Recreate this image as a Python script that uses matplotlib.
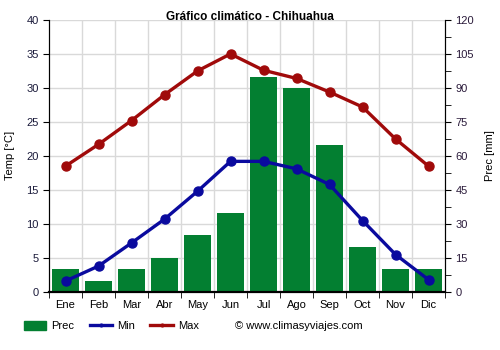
import matplotlib
matplotlib.use("Agg")
import matplotlib.pyplot as plt
from matplotlib.lines import Line2D
from matplotlib.patches import Patch
import numpy as np

plt.rcParams['font.family'] = ['Liberation Sans', 'DejaVu Sans']

months = ["Ene", "Feb", "Mar", "Abr", "May", "Jun", "Jul", "Ago", "Sep", "Oct", "Nov", "Dic"]
prec = [10, 5, 10, 15, 25, 35, 95, 90, 65, 20, 10, 10]
tmin = [1.6, 3.8, 7.2, 10.7, 14.8, 19.2, 19.2, 18.1, 15.8, 10.5, 5.5, 1.8]
tmax = [18.5, 21.7, 25.2, 29.0, 32.5, 35.0, 32.6, 31.4, 29.4, 27.2, 22.5, 18.5]

green = "#037f31"
blue = "#0a0a9e"
red = "#a00a0a"
grid = "#d9d9d9"

fig = plt.figure(figsize=(5, 3.5), dpi=100)
ax = fig.add_axes([0.098, 0.166, 0.792, 0.777])
ax2 = ax.twinx()

x = np.arange(len(months))

# precipitation bars on the right axis
ax2.bar(x, prec, width=0.8, color=green, zorder=2)
ax2.set_ylim(0, 120)
ax2.set_yticks(np.arange(0, 121, 15))
ax2.set_yticks(np.arange(0, 121, 7.5), minor=True)

# temperature lines on the left axis drawn above the bars
ax.set_zorder(ax2.get_zorder() + 1)
ax.patch.set_visible(False)
ax.plot(x, tmin, color=blue, lw=2.4, marker="o", ms=6.5, zorder=4)
ax.plot(x, tmax, color=red, lw=2.4, marker="o", ms=6.5, zorder=4)
ax.set_ylim(0, 40)
ax.set_yticks(np.arange(0, 41, 5))
ax.set_xlim(-0.5, 11.5)
ax.set_xticks(x)
ax.set_xticklabels(months)
ax.set_xticks(np.arange(-0.5, 12, 1), minor=True)

# grid behind everything
ax2.set_axisbelow(True)
ax2.yaxis.grid(False)
for yv in np.arange(5, 41, 5):
    ax2.axhline(yv * 3, color=grid, lw=1, zorder=0)
for xv in np.arange(0.5, 11.5, 1):
    ax2.axvline(xv, color=grid, lw=1, zorder=0)

for a in (ax, ax2):
    a.spines['top'].set_visible(False)
    a.spines['left'].set_color("black")
    a.spines['right'].set_color("black")
ax.spines['bottom'].set_linewidth(1.6)
ax2.spines['bottom'].set_visible(False)

ax.tick_params(axis='x', which='major', length=0, labelsize=8, pad=6)
ax.tick_params(axis='x', which='minor', length=4, color="black")
ax.tick_params(axis='y', labelsize=8, length=4, colors="black", labelcolor="#1a1a3a")
ax2.tick_params(axis='y', which='major', labelsize=8, length=4, labelcolor="#2a1a3a")
ax2.tick_params(axis='y', which='minor', length=4)

ax.set_ylabel("Temp [°C]", fontsize=8, labelpad=8)
ax2.set_ylabel("Prec [mm]", fontsize=8, labelpad=8)

fig.text(0.5, 0.951, "Gráfico climático - Chihuahua", ha="center", va="center",
         fontsize=8.5, fontweight="bold")

handles = [
    Patch(color=green, label="Prec"),
    Line2D([0], [0], color=blue, lw=2.4, marker="o", ms=2, label="Min"),
    Line2D([0], [0], color=red, lw=2.4, marker="o", ms=2, label="Max"),
]
fig.legend(handles=handles, loc="center left", bbox_to_anchor=(0.048, 0.068),
           ncol=3, frameon=False, fontsize=8, handlelength=2.0, handleheight=0.9,
           columnspacing=1.4, handletextpad=0.45, borderaxespad=0, borderpad=0)
fig.text(0.47, 0.068, "© www.climasyviajes.com", fontsize=8, va="center", ha="left")

fig.savefig("out.png", dpi=100)
